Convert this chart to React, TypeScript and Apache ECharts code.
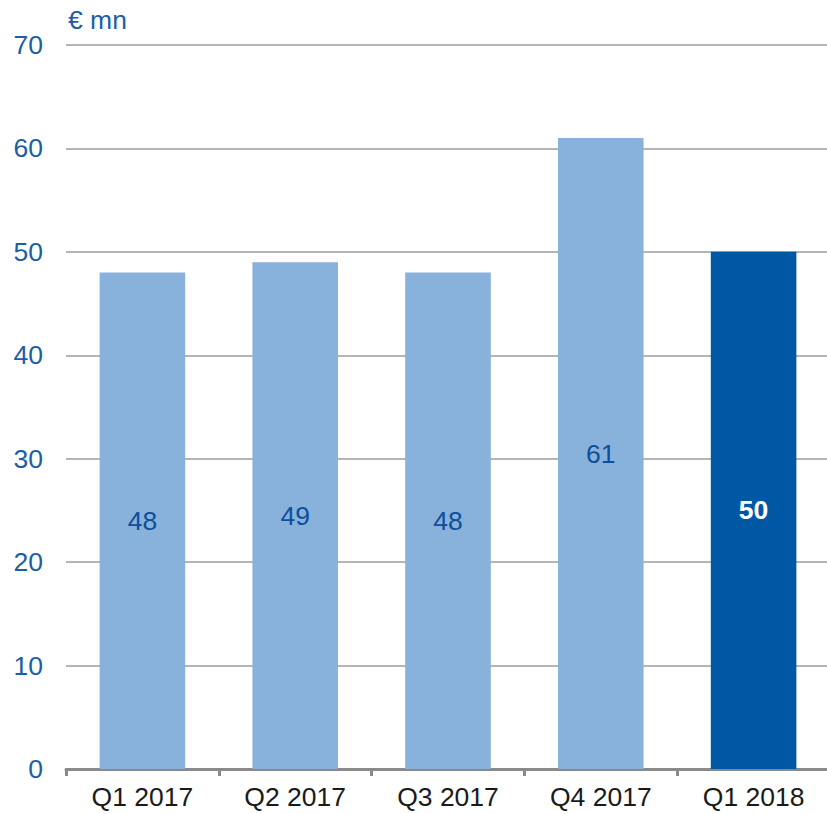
import React, { useEffect, useRef } from "react";
import * as echarts from "echarts";

const categories = ["Q1 2017", "Q2 2017", "Q3 2017", "Q4 2017", "Q1 2018"];
const values = [48, 49, 48, 61, 50];
const highlightIndex = 4;
const yUnit = "€ mn";

export default function App() {
  const ref = useRef<HTMLDivElement>(null);
  useEffect(() => {
    if (!ref.current) return;
    const chart = echarts.init(ref.current, undefined, { renderer: "svg" });
    const font = "Liberation Sans, Arial, sans-serif";
    chart.setOption({
      animation: false,
      grid: { left: 66, right: 10, top: 45, bottom: 45, containLabel: false },
      xAxis: {
        type: "category",
        data: categories,
        axisLine: { lineStyle: { color: "#8a8a8a", width: 3 } },
        axisTick: { show: true, length: 7, lineStyle: { color: "#8a8a8a", width: 3 } },
        axisLabel: { color: "#1a1a1a", fontSize: 26.5, fontFamily: font, margin: 14 },
      },
      yAxis: {
        type: "value",
        min: 0,
        max: 70,
        interval: 10,
        name: yUnit,
        nameLocation: "end",
        nameGap: 25,
        nameTextStyle: { color: "#1a5fa6", fontSize: 26.5, fontFamily: font, align: "left", verticalAlign: "middle", padding: [0, 0, 0, 2] },
        axisLine: { show: false },
        axisTick: { show: false },
        axisLabel: { color: "#1a5fa6", fontSize: 26.5, fontFamily: font, margin: 23 },
        splitLine: { lineStyle: { color: "#b5b5b5", width: 2 } },
      },
      series: [
        {
          type: "bar",
          barWidth: "56%",
          data: values.map((v, i) => ({
            value: v,
            itemStyle: { color: i === highlightIndex ? "#0057a3" : "#88b1dc" },
            label: {
              show: true,
              position: "inside",
              color: i === highlightIndex ? "#ffffff" : "#0d4f9a",
              fontWeight: i === highlightIndex ? "bold" : "normal",
              fontSize: 26.5,
              fontFamily: font,
            },
          })),
        },
      ],
    });
    return () => chart.dispose();
  }, []);
  return (
    <div style={{ width: 827, height: 814, position: "absolute", left: 0, top: 0, overflow: "hidden" }}>
      <div ref={ref} style={{ width: 840, height: 814 }} />
    </div>
  );
}
